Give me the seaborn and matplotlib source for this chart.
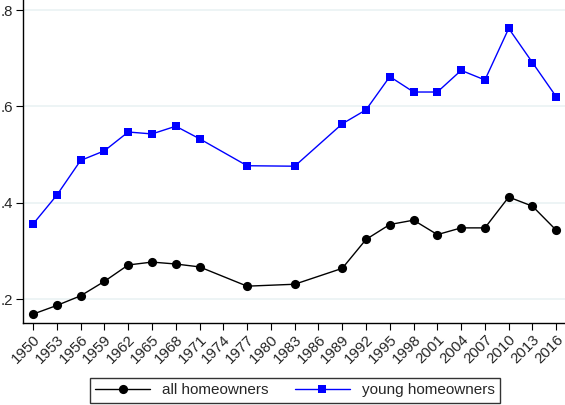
import numpy as np
import pandas as pd
import matplotlib
matplotlib.use("Agg")
import matplotlib.pyplot as plt
import seaborn as sns

# donnees
years = [1950, 1953, 1956, 1959, 1962, 1965, 1968, 1971, 1977, 1983,
         1989, 1992, 1995, 1998, 2001, 2004, 2007, 2010, 2013, 2016]
all_owners = [0.169, 0.187, 0.207, 0.237, 0.271, 0.277, 0.273, 0.267, 0.227, 0.231,
              0.264, 0.324, 0.355, 0.364, 0.334, 0.348, 0.348, 0.412, 0.393, 0.343]
young_owners = [0.356, 0.416, 0.488, 0.508, 0.547, 0.543, 0.559, 0.533, 0.477, 0.476,
                0.564, 0.593, 0.662, 0.630, 0.630, 0.675, 0.655, 0.762, 0.691, 0.620]
tick_years = list(range(1950, 2017, 3))
y_ticks = [0.2, 0.4, 0.6, 0.8]
y_labels = [".2", ".4", ".6", ".8"]

df = pd.DataFrame({
    "year": years * 2,
    "share": all_owners + young_owners,
    "group": ["all homeowners"] * len(years) + ["young homeowners"] * len(years),
})

sns.set_style("white")
plt.rcParams["font.family"] = ["Liberation Sans", "DejaVu Sans"]

fig = plt.figure(figsize=(5.65, 4.05), dpi=100)
ax = fig.add_axes([0.041, 0.203, 0.959, 0.797])

sns.lineplot(data=df, x="year", y="share", hue="group", style="group",
             palette={"all homeowners": "black", "young homeowners": "#0000ff"},
             markers={"all homeowners": "o", "young homeowners": "s"},
             dashes=False, markeredgewidth=0, linewidth=1.0,
             ax=ax, legend=False)
# tailles des marqueurs
ax.lines[0].set_markersize(6.6)
ax.lines[1].set_markersize(5.6)

ax.set_xlim(1948.75, 2017.1)
ax.set_ylim(0.151, 0.821)
ax.set_xticks(tick_years)
ax.set_xticklabels([str(y) for y in tick_years], rotation=45, ha="right",
                   rotation_mode="anchor", fontsize=10.8)
ax.set_yticks(y_ticks)
ax.set_yticklabels(y_labels, fontsize=10.8)
ax.tick_params(axis="both", direction="out", length=5, width=0.8, color="black",
               bottom=True, left=True, pad=2)
ax.grid(axis="y", color="#eaf2f3", linewidth=1.2)
ax.set_axisbelow(True)
ax.set_xlabel("")
ax.set_ylabel("")
for side in ["top", "right"]:
    ax.spines[side].set_visible(False)
for side in ["left", "bottom"]:
    ax.spines[side].set_color("black")
    ax.spines[side].set_linewidth(1.0)

# legende
h1 = plt.Line2D([], [], color="black", marker="o", markersize=6.6, linewidth=1.0, markeredgewidth=0)
h2 = plt.Line2D([], [], color="#0000ff", marker="s", markersize=5.6, linewidth=1.0, markeredgewidth=0)
leg = fig.legend([h1, h2], ["all homeowners", "young homeowners"], ncol=2,
                 loc="center", bbox_to_anchor=(0.522, 0.036), fontsize=11,
                 frameon=True, fancybox=False, handlelength=3.6, columnspacing=1.7,
                 borderpad=0.35, handletextpad=0.8, borderaxespad=0)
leg.get_frame().set_edgecolor("black")
leg.get_frame().set_linewidth(1.0)

fig.savefig("out.png", dpi=100)
